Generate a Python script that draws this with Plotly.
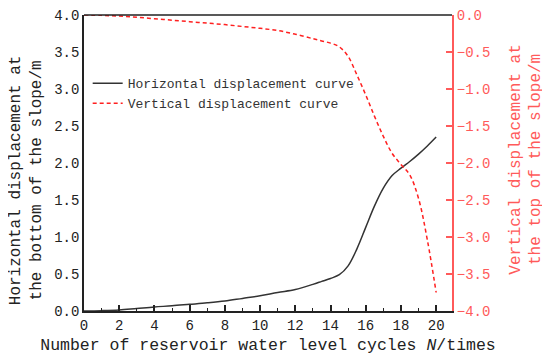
import plotly.graph_objects as go

cycles = [0, 1, 2, 3, 4, 5, 6, 7, 8, 9, 10, 11, 12, 13, 13.5, 14, 14.5, 15, 15.5, 16, 16.5, 17, 17.5, 18, 18.5, 19, 19.5, 20]
horizontal = [0, 0.005, 0.015, 0.035, 0.055, 0.07, 0.09, 0.11, 0.135, 0.17, 0.205, 0.25, 0.29, 0.36, 0.40, 0.44,
              0.49, 0.61, 0.84, 1.13, 1.42, 1.66, 1.83, 1.93, 2.02, 2.12, 2.23, 2.35]
vertical = [0, -0.005, -0.015, -0.03, -0.05, -0.07, -0.09, -0.11, -0.13, -0.155, -0.18, -0.21, -0.26, -0.32, -0.35,
            -0.38, -0.43, -0.56, -0.81, -1.08, -1.37, -1.64, -1.87, -2.02, -2.16, -2.48, -3.04, -3.75]
x_ticks = [0, 2, 4, 6, 8, 10, 12, 14, 16, 18, 20]

FONT = "Liberation Mono"
RED = "#ff2020"
RED_AXIS = "#ff5a5a"

fig = go.Figure()
fig.add_trace(go.Scatter(x=cycles, y=horizontal, mode="lines", name="Horizontal displacement curve",
                         line=dict(color="#333333", width=1.5, shape="spline", smoothing=1.0)))
fig.add_trace(go.Scatter(x=cycles, y=vertical, mode="lines", name="Vertical displacement curve", yaxis="y2",
                         line=dict(color=RED, width=1.5, dash="4px,3px", shape="spline", smoothing=1.0)))

# page body has an 8px margin, so the figure is 8px smaller and the margins are shifted
fig.update_layout(
    width=542, height=356,
    margin=dict(l=76, r=98, t=7, b=53, autoexpand=False),
    paper_bgcolor="white", plot_bgcolor="white",
    font=dict(family=FONT, size=14, color="#222"),
    showlegend=True,
    legend=dict(x=0.01, y=0.82, xanchor="left", yanchor="top", bgcolor="rgba(0,0,0,0)",
                font=dict(family=FONT, size=13, color="#333"), itemwidth=30, tracegroupgap=0),
    xaxis=dict(range=[0, 20.9], tickvals=x_ticks, ticks="inside", ticklen=6, tickwidth=1.5, tickcolor="#222",
               minor=dict(dtick=1, ticks="inside", ticklen=3, tickwidth=1.2, tickcolor="#222"),
               showline=True, linecolor="#222", linewidth=2, mirror=False, showgrid=False, zeroline=False,
               automargin=False, ticklabeloverflow="allow",
               tickfont=dict(family=FONT, size=14, color="#222"),
               title=dict(text="Number of reservoir water level cycles <i>N</i>/times", standoff=6,
                          font=dict(family=FONT, size=16.5, color="#222"))),
    yaxis=dict(range=[0, 4], dtick=0.5, tickformat=".1f", ticks="", showline=True, linecolor="#222",
               linewidth=1.5, showgrid=False, zeroline=False, automargin=False, ticklabeloverflow="allow",
               tickfont=dict(family=FONT, size=14, color="#222")),
    yaxis2=dict(range=[-4, 0], dtick=0.5, tickformat=".1f", overlaying="y", side="right", ticks="inside",
                ticklen=6, tickwidth=1.5, tickcolor=RED_AXIS, showline=True, linecolor=RED_AXIS, linewidth=2,
                showgrid=False, zeroline=False, automargin=False, ticklabeloverflow="allow",
                tickfont=dict(family=FONT, size=14, color=RED_AXIS)),
    shapes=[dict(type="line", xref="paper", yref="paper", x0=0, x1=1, y0=1, y1=1,
                 line=dict(color="#222", width=1.5))],
    annotations=[
        dict(text="Horizontal displacement at<br>the bottom of the slope/m", xref="paper", yref="paper",
             x=-0.154, y=0.443, xanchor="center", yanchor="middle", textangle=-90, showarrow=False,
             font=dict(family=FONT, size=16, color="#222")),
        dict(text="Vertical displacement at<br>the top of the slope/m", xref="paper", yref="paper",
             x=1.20, y=0.51, xanchor="center", yanchor="middle", textangle=-90, showarrow=False,
             font=dict(family=FONT, size=16, color=RED_AXIS)),
    ],
)

fig.write_html("out.html")
